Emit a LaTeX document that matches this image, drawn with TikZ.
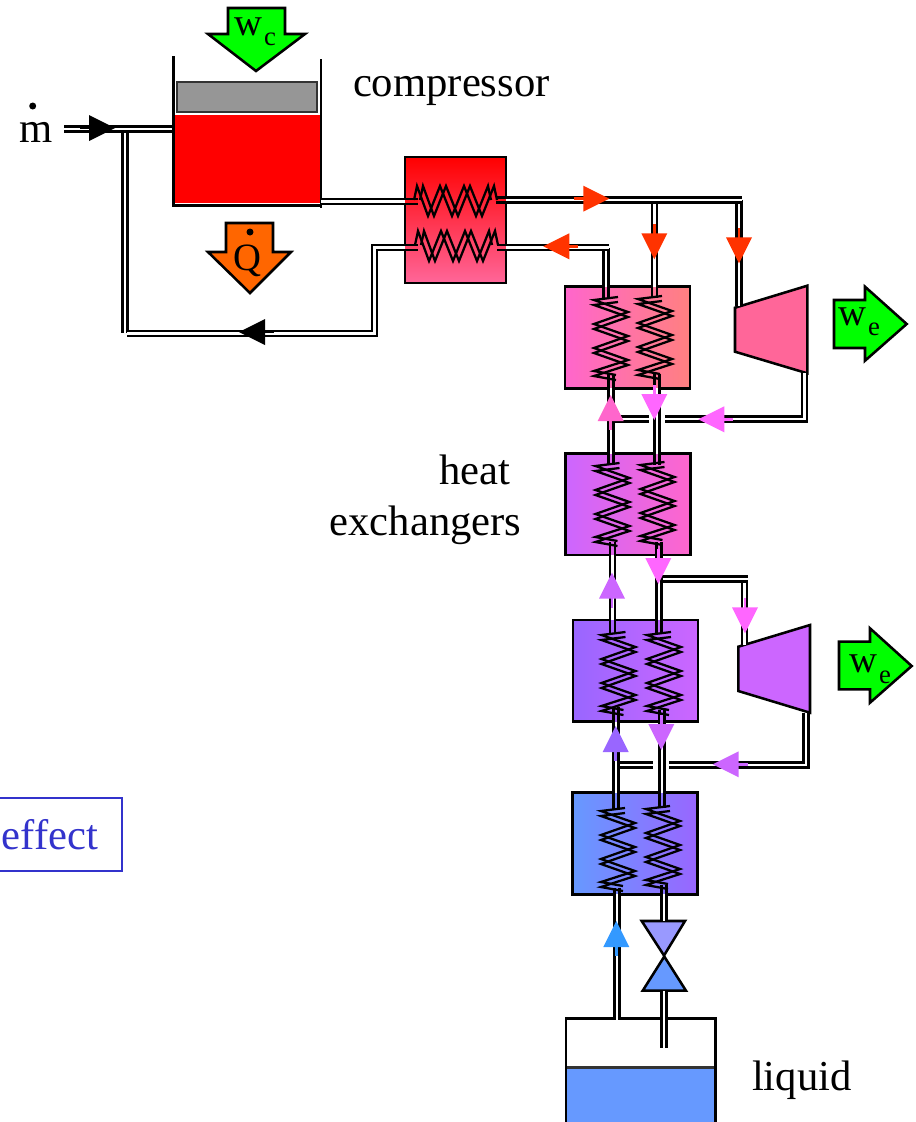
\documentclass[tikz,border=0pt]{standalone}
\usepackage{fontspec}
\setmainfont{Liberation Serif}
\definecolor{fgreen}{HTML}{00FF00}
\definecolor{forange}{HTML}{FF6600}
\definecolor{fred}{HTML}{FF3300}
\definecolor{fpink}{HTML}{FF66CC}
\definecolor{fmag}{HTML}{FF66FF}
\definecolor{fviol}{HTML}{CC66FF}
\definecolor{fpurp}{HTML}{9966FF}
\definecolor{fblue}{HTML}{6699FF}
\definecolor{fsky}{HTML}{3399FF}
\definecolor{fpale}{HTML}{9999FF}
\definecolor{frose}{HTML}{FF6699}
\definecolor{fsalm}{HTML}{FF8080}
\definecolor{effectc}{HTML}{3333CC}
\definecolor{pgray}{HTML}{969696}
\tikzset{
  x=0.75pt,y=-0.75pt,
  pipe/.style={draw=black,line width=1.8pt,double=white,double distance=1.95pt,line join=miter},
  coilline/.style={draw=black,line width=1.7pt,line join=miter},
  hxbox/.style={draw=black,line width=1.9pt,inner sep=0pt,outer sep=0pt,rectangle},
  wall/.style={draw=black,line width=1.9pt},
  bigarrow/.style={draw=black,line width=1.9pt,line join=miter},
  label/.style={inner sep=0pt,outer sep=0pt,anchor=base west,font=\fontsize{32}{36}\selectfont},
  wlabel/.style={inner sep=0pt,outer sep=0pt,anchor=base west,font=\fontsize{29}{32}\selectfont},
  sublabel/.style={inner sep=0pt,outer sep=0pt,anchor=base west,font=\fontsize{20}{24}\selectfont},
  bridge/.style={draw=white,line width=12pt},
}
% flow arrow: colour, tip x, tip y, screen angle
\newcommand\flowarrow[4]{%
  \begin{scope}[shift={(#2,#3)},rotate=#4]
    \fill[#1] (-35,-1.4) rectangle (-25,1.4);
    \fill[#1] (0,0) -- (-26,13) -- (-26,-13) -- cycle;
  \end{scope}}
% vertical coil: centre x, top y
\newcommand\vcoil[2]{%
  \foreach \d in {0,5}{%
    \begin{scope}[shift={(#1,#2+\d)}]
      \draw[coilline] (7,0) -- (-17,3) -- (17,15) -- (-17,27) -- (17,39) -- (-17,51) -- (17,63) -- (-17,74) -- (5,78);
    \end{scope}}}
% horizontal coil: left x, mid y
\newcommand\hcoil[2]{%
  \foreach \d in {0,6}{%
    \begin{scope}[shift={(#1+\d,#2)}]
      \draw[coilline] (0,0) -- (3,-14) -- (14,16) -- (26,-14) -- (38,16) -- (50,-14) -- (62,16) -- (74,-14) -- (77,0);
    \end{scope}}}
\begin{document}
\begin{tikzpicture}
\useasboundingbox (0,0) rectangle (916,1122);
\fill[white] (0,0) rectangle (916,1122);

% ---------- compressor ----------
\node[rectangle,fill=red,inner sep=0pt,outer sep=0pt,minimum width=108.75pt,minimum height=66pt] (gas) at (247.5,159) {};
\node[hxbox,draw=black!80,fill=pgray,minimum width=105pt,minimum height=22.5pt] (piston) at (247,97) {};
\draw[wall] (173.5,56) -- (173.5,206.5);
\draw[wall] (321,59) -- (321,207.5);
\draw[wall] (172.5,205.5) -- (321,205.5);

% work and heat arrows
\draw[bigarrow,fill=fgreen] (228,8) -- (285,8) -- (285,34) -- (305,34) -- (256,71) -- (208,34) -- (228,34) -- cycle;
\node[wlabel] (wc) at (234.5,35) {w};
\node[sublabel] (wcsub) at (264,45) {c};
\draw[bigarrow,fill=forange] (226,223) -- (273,223) -- (273,252) -- (291,252) -- (250,293) -- (208,252) -- (226,252) -- cycle;
\node[wlabel,font=\fontsize{29}{32}\selectfont] (qdot) at (233,270) {Q};
\fill (250,232) circle (3.5);
\node[label] (mdot) at (20,142.5) {m};
\fill (32.7,106) circle (3.5);
\node[label] (compressorlabel) at (353,96) {compressor};

% ---------- exchanger boxes ----------
\node[hxbox,top color=red,bottom color=frose,minimum width=75.75pt,minimum height=94.5pt] (hxa) at (455.5,220) {};
\node[hxbox,left color=fpink,right color=fsalm,minimum width=93.75pt,minimum height=76.2pt] (hxb) at (627.5,337.5) {};
\node[hxbox,left color=fviol,right color=fpink,minimum width=93.75pt,minimum height=76.2pt] (hxc) at (628,504.2) {};
\node[hxbox,left color=fpurp,right color=fviol,minimum width=93.75pt,minimum height=76.2pt] (hxd) at (635.5,670.8) {};
\node[hxbox,left color=fblue,right color=fpurp,minimum width=93.75pt,minimum height=76.2pt] (hxe) at (635,843.5) {};

% ---------- turbines and work arrows ----------
\draw[bigarrow,fill=frose] (735,307.7) -- (807.3,285.7) -- (807.3,373.3) -- (735,351.7) -- cycle;
\draw[bigarrow,fill=fviol] (738.3,646.7) -- (810,625) -- (810,712.7) -- (738.3,691) -- cycle;
\draw[bigarrow,fill=fgreen] (834,300) -- (865,300) -- (865,286.7) -- (906.7,324) -- (865,360.7) -- (865,348) -- (834,348) -- cycle;
\node[wlabel] (wea) at (838.5,325) {w};
\node[sublabel] (weasub) at (868,335) {e};
\draw[bigarrow,fill=fgreen] (839,641.7) -- (870,641.7) -- (870,628.3) -- (911.7,666) -- (870,702.7) -- (870,689.3) -- (839,689.3) -- cycle;
\node[wlabel] (web) at (849.5,672.7) {w};
\node[sublabel] (websub) at (879,683.3) {e};

% ---------- other texts ----------
\node[label] (heatlabel) at (439,484) {heat};
\node[label] (exchlabel) at (329.5,535) {exchangers};
\node[label] (liquidlabel) at (752,1090) {liquid};
\node[label,text=effectc] (effectlabel) at (2,849) {effect};
\draw[effectc,line width=1.3pt] (-5,798) rectangle (122,871);

% ---------- valve and tank ----------
\draw[bigarrow,fill=fpale] (641.7,921) -- (685,921) -- (664,955.5) -- cycle;
\draw[bigarrow,fill=fblue] (642.7,990.7) -- (686,990.7) -- (664.3,956.5) -- cycle;
\fill[fblue] (566,1067.7) rectangle (715.7,1124);
\draw[wall,black!80] (566,1067.7) -- (715.7,1067.7);
\draw[wall] (566,1124) -- (566,1018.7) -- (715.7,1018.7) -- (715.7,1124);

% ---------- pipes (named points) ----------
\coordinate (in0) at (64,129);
\coordinate (in1) at (172,129);
\coordinate (ret0) at (125,132);
\coordinate (ret1) at (125,333);
\coordinate (ret2) at (127,333.5);
\coordinate (ret3) at (374.5,333.5);
\coordinate (ret4) at (374.5,247.5);
\coordinate (ret5) at (405,247.5);
\coordinate (cout) at (321,201.5);
\coordinate (cout1) at (405,201.5);

\draw[pipe] (ret0) -- (ret1);
\draw[pipe] (ret2) -- (ret3) -- (ret4) -- (ret5);
\draw[pipe] (in0) -- (in1);
\draw[pipe] (cout) -- (cout1);
\draw[pipe,double=red!80!frose] (cout1) -- (418,201.5);
\draw[pipe,double=frose!70!red] (ret5) -- (418,247.5);

% hot side out of the first exchanger
\coordinate (hotr) at (506,200);
\coordinate (hote) at (742,200);
\coordinate (brb) at (654.5,200);
\coordinate (brbe) at (654.5,287);
\coordinate (brt) at (739,200);
\coordinate (brte) at (739,306);
\draw[pipe] (brb) -- (brbe);
\draw[pipe] (brt) -- (brte);
\draw[pipe] (hotr) -- (hote);
\draw[pipe,double=red!80!frose] (496,200) -- (hotr);
\coordinate (retbl) at (506,247.5);
\coordinate (retbc) at (609,247.5);
\coordinate (retbv) at (606,248);
\coordinate (retbe) at (606,287);
\draw[pipe] (retbv) -- (retbe);
\draw[pipe] (retbl) -- (retbc);
\draw[pipe,double=frose!70!red] (497,247.5) -- (retbl);
\draw[pipe,double=fpink!70!fsalm] (retbe) -- (606,298);
\draw[pipe,double=fsalm!70!fpink] (brbe) -- (654.5,298);

% first turbine exhaust
\coordinate (ta0) at (804.5,373);
\coordinate (ta1) at (804.5,419);
\coordinate (ta2) at (613,419);
\draw[pipe] (ta0) -- (ta1) -- (ta2);
\draw[bridge] (657,415) -- (657,423);

% between second and third exchanger
\draw[pipe] (611,388) -- (611,454);
\draw[pipe] (657,388) -- (657,454);
\draw[pipe,double=fpink!70!fsalm] (611,374) -- (611,388);
\draw[pipe,double=fsalm!70!fpink] (657,374) -- (657,388);
\draw[pipe,double=fviol!65!fpink] (611,454) -- (611,465);
\draw[pipe,double=fpink!75!fviol] (657,454) -- (657,465);

% between third and fourth exchanger
\coordinate (bc0) at (659,579);
\coordinate (bc1) at (748,579);
\coordinate (bc2) at (744.5,580);
\coordinate (bc3) at (744.5,645);
\draw[pipe] (bc2) -- (bc3);
\draw[pipe] (bc0) -- (bc1);
\draw[pipe] (612.5,555) -- (612.5,620);
\draw[pipe] (659,555) -- (659,620);
\draw[pipe,double=fviol!65!fpink] (612.5,542) -- (612.5,555);
\draw[pipe,double=fpink!75!fviol] (659,542) -- (659,555);
\draw[pipe,double=fpurp!65!fviol] (612.5,620) -- (612.5,634);
\draw[pipe,double=fviol!70!fpurp] (659,620) -- (659,634);

% second turbine exhaust
\coordinate (tb0) at (806,713);
\coordinate (tb1) at (806,765);
\coordinate (tb2) at (618,765);
\draw[pipe] (tb0) -- (tb1) -- (tb2);
\draw[bridge] (661,761) -- (661,769);

% between fourth and fifth exchanger
\draw[pipe] (616,722) -- (616,793);
\draw[pipe] (662,722) -- (662,793);
\draw[pipe,double=fpurp!65!fviol] (616,707) -- (616,722);
\draw[pipe,double=fviol!70!fpurp] (662,710) -- (662,722);
\draw[pipe,double=fblue!65!fpurp] (616,793) -- (616,809);
\draw[pipe,double=fpurp!70!fblue] (662,793) -- (662,808);

% below the fifth exchanger
\draw[pipe] (617,894) -- (617,1020);
\draw[pipe] (664,894) -- (664,921);
\draw[pipe,double=fblue!65!fpurp] (617,888) -- (617,894);
\draw[pipe,double=fpurp!70!fblue] (664,885) -- (664,894);
\draw[pipe] (664,991) -- (664,1048);

% ---------- coils ----------
\hcoil{414}{200}
\hcoil{415}{245}
\vcoil{611}{297}
\vcoil{655}{296}
\vcoil{612.5}{463}
\vcoil{657.5}{462}
\vcoil{618.5}{632}
\vcoil{664}{632}
\vcoil{618}{808}
\vcoil{663}{806}

% ---------- flow arrows ----------
\flowarrow{black}{115}{128}{0}
\flowarrow{black}{239}{332}{180}
\flowarrow{fred}{609.3}{198.7}{0}
\flowarrow{fred}{543.3}{246.3}{180}
\flowarrow{fred}{654.3}{259.3}{270}
\flowarrow{fred}{739}{263.3}{270}
\flowarrow{fpink}{610.7}{395}{90}
\flowarrow{fmag}{654.3}{420}{270}
\flowarrow{fmag}{698.3}{419.3}{180}
\flowarrow{fmag}{658.3}{584}{270}
\flowarrow{fviol}{612}{572.7}{90}
\flowarrow{fmag}{745}{633.3}{270}
\flowarrow{fpurp}{615.7}{726}{90}
\flowarrow{fviol}{661.3}{750}{270}
\flowarrow{fviol}{712.7}{764.3}{180}
\flowarrow{fsky}{616.3}{921}{90}
\end{tikzpicture}
\end{document}
